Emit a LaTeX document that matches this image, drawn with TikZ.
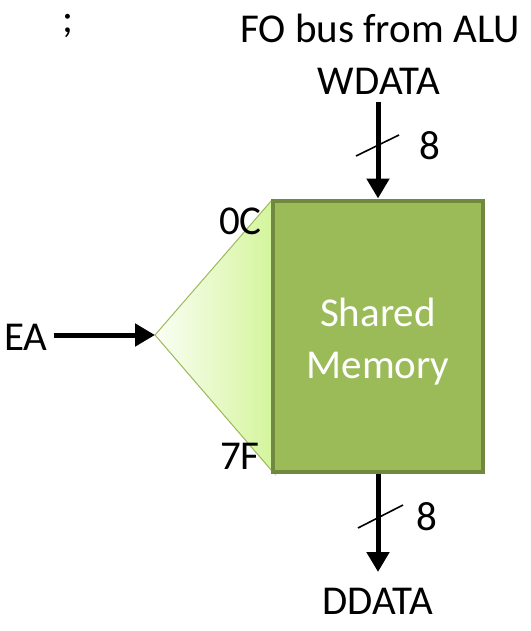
\documentclass[tikz,border=0pt]{standalone}
\usepackage{fontspec}
\setmainfont{Carlito}
\usetikzlibrary{arrows.meta,shadows}
\definecolor{boxgreen}{HTML}{9BBB59}
\definecolor{boxedge}{HTML}{71893F}
\definecolor{trigreen}{HTML}{D4F59C}
\definecolor{triedge}{HTML}{9BBB59}
\tikzset{
  lbl/.style={font=\fontsize{41}{44}\selectfont, inner sep=0pt},
  bus/.style={line width=5pt, -{Triangle[width=22pt,length=20pt]}},
  tick/.style={line width=1.6pt},
}
\begin{document}
\begin{tikzpicture}[x=1pt,y=-1pt]
\useasboundingbox (0,0) rectangle (530,631);
% triangle decoder
\coordinate (apex) at (155,335);
\coordinate (ttop) at (272,200);
\coordinate (tbot) at (272,471);
\fill[black, opacity=0.18] (158,339) -- (276,204) -- (276,476) -- cycle;
\shade[left color=white!90!trigreen, right color=trigreen, draw=triedge, line width=1pt] (apex) -- (ttop) -- (tbot) -- cycle;
% memory box
\node (mem) [draw=boxedge, line width=4pt, fill=boxgreen, minimum width=210pt, minimum height=271pt, inner sep=0pt] at (378,336) {};
\node (sh) [lbl, text=white, align=center] at (378,342) {Shared\\[8pt]Memory};
% labels
\node (semi) [lbl] at (68,26) {;};
\node (fo) [lbl] at (380,28) {FO bus from ALU};
\node (wd) [lbl] at (379,81) {WDATA};
\node (dd) [lbl] at (378,601) {DDATA};
\node (ea) [lbl, anchor=west] at (4,337) {EA};
\node (oc) [lbl, anchor=east] at (262,221) {0C};
\node (sf) [lbl, anchor=east] at (260,456) {7F};
\node (w8) [lbl] at (430,146) {8};
\node (d8) [lbl] at (427,517) {8};
% buses
\coordinate (wtop) at (378,102);
\coordinate (dbot) at (378,572);
\draw[bus] (wtop) -- (mem.north -| wtop);
\draw[bus] (mem.south -| dbot) -- (dbot);
\draw[bus] (ea.east) ++(6,-2) coordinate (eastart) -- (apex);
\draw[tick] (356,156) -- (399,135);
\draw[tick] (358,528) -- (403,505);
\end{tikzpicture}
\end{document}
